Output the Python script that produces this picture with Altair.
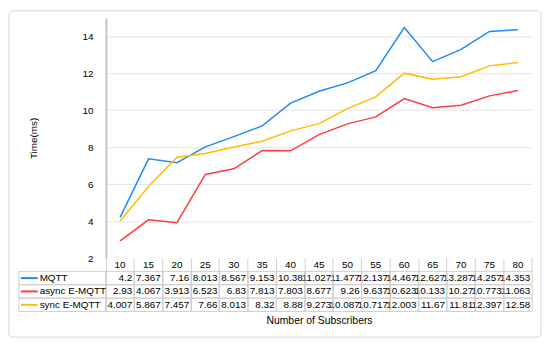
import altair as alt
import pandas as pd

subscribers = ["10", "15", "20", "25", "30", "35", "40", "45", "50", "55", "60", "65", "70", "75", "80"]
series = ["MQTT", "async E-MQTT", "sync E-MQTT"]
mqtt = [4.2, 7.367, 7.16, 8.013, 8.567, 9.153, 10.38, 11.027, 11.477, 12.137, 14.467, 12.627, 13.287, 14.257, 14.353]
async_e = [2.93, 4.067, 3.913, 6.523, 6.83, 7.813, 7.803, 8.677, 9.26, 9.637, 10.623, 10.133, 10.27, 10.773, 11.063]
sync_e = [4.007, 5.867, 7.457, 7.66, 8.013, 8.32, 8.88, 9.273, 10.087, 10.717, 12.003, 11.67, 11.81, 12.397, 12.58]
colors = ["#1f8bf2", "#ff3d3d", "#ffbc00"]
y_ticks = [2, 4, 6, 8, 10, 12, 14]
rows = ["hdr"] + series

FONT = "Liberation Sans"
GRID = "#cfcfcf"

records = []
for name, vals in zip(series, [mqtt, async_e, sync_e]):
    for s, v in zip(subscribers, vals):
        records.append({"sub": s, "series": name, "row": name, "value": v, "label": f"{v:g}"})
df = pd.DataFrame(records)
hdr = pd.DataFrame({"sub": subscribers, "row": ["hdr"] * len(subscribers), "label": subscribers})
rowdf = pd.DataFrame({"row": series})

color_scale = alt.Scale(domain=series, range=colors)

# ---------- top: line plot ----------
border = alt.Chart(pd.DataFrame({"a": [0]})).mark_rect(
    fill="white", fillOpacity=0, stroke="#d4d4d4", strokeWidth=1, cornerRadius=4
).encode(x=alt.value(-98), x2=alt.value(440), y=alt.value(-7), y2=alt.value(323))

lines = alt.Chart(df).mark_line(strokeWidth=1.5).encode(
    x=alt.X("sub:O", scale=alt.Scale(domain=subscribers, type="point", padding=0.5), axis=None),
    y=alt.Y(
        "value:Q",
        scale=alt.Scale(domain=[2, 15], nice=False, zero=False),
        axis=alt.Axis(
            values=y_ticks,
            title="Time(ms)",
            titleFontSize=10,
            titleFontWeight="normal",
            titleColor="black",
            titlePadding=44,
            labelFontSize=10,
            labelColor="black",
            labelPadding=13,
            ticks=False,
            domainColor="#c4c4c4",
            domainWidth=2,
            gridColor=alt.condition("datum.value == 2", alt.value("transparent"), alt.value("#e4e4e4")),
        ),
    ),
    color=alt.Color("series:N", scale=color_scale, legend=None),
)

top = alt.layer(border, lines).properties(width=431, height=243)

# ---------- bottom: data table ----------
xaxis = alt.Axis(
    title="Number of Subscribers",
    titleFontSize=10.5,
    titleFontWeight="normal",
    titleColor="black",
    titlePadding=4,
    labels=False,
    ticks=False,
    domain=False,
    grid=True,
    bandPosition=0,
    gridColor=GRID,
)
xscale = alt.Scale(domain=subscribers, type="band", paddingInner=0, paddingOuter=0)
tx = alt.X("sub:O", scale=xscale, axis=xaxis)
ty = alt.Y("row:N", scale=alt.Scale(domain=rows, type="band", paddingInner=0, paddingOuter=0), axis=None)

cells = alt.Chart(df).mark_rect(fill="white", fillOpacity=0, stroke=GRID, strokeWidth=1).encode(x=tx, y=ty)

values_txt = alt.Chart(df).mark_text(align="right", dx=-2, fontSize=10, color="black").encode(
    x=alt.X("sub:O", scale=xscale, axis=xaxis, bandPosition=1), y=ty, text="label:N"
)

hdr_txt = alt.Chart(hdr).mark_text(fontSize=10, color="black").encode(x=tx, y=ty, text="label:N")

hdr_edge = alt.Chart(pd.DataFrame({"a": [0]})).mark_rule(color=GRID, strokeWidth=1).encode(
    x=alt.value(431), y=alt.value(0), y2=alt.value(13.5)
)

row_cells = alt.Chart(rowdf).mark_rect(fill="white", fillOpacity=0, stroke=GRID, strokeWidth=1).encode(
    x=alt.value(-88), x2=alt.value(0), y=ty
)

swatch = alt.Chart(rowdf).mark_rule(strokeWidth=2).encode(
    x=alt.value(-86), x2=alt.value(-69), y=ty,
    color=alt.Color("row:N", scale=color_scale, legend=None),
)

row_txt = alt.Chart(rowdf).mark_text(align="left", fontSize=10, color="black").encode(
    x=alt.value(-67), y=ty, text="row:N"
)

table = alt.layer(cells, row_cells, hdr_edge, values_txt, hdr_txt, swatch, row_txt).properties(width=431, height=54)

chart = (
    alt.vconcat(top, table, spacing=0, bounds="flush")
    .resolve_scale(x="independent", y="independent", color="independent")
    .properties(padding=0)
    .configure(font=FONT)
    .configure_view(stroke="transparent")
)

chart.save("out.html", embed_options={"renderer": "svg", "actions": False})
